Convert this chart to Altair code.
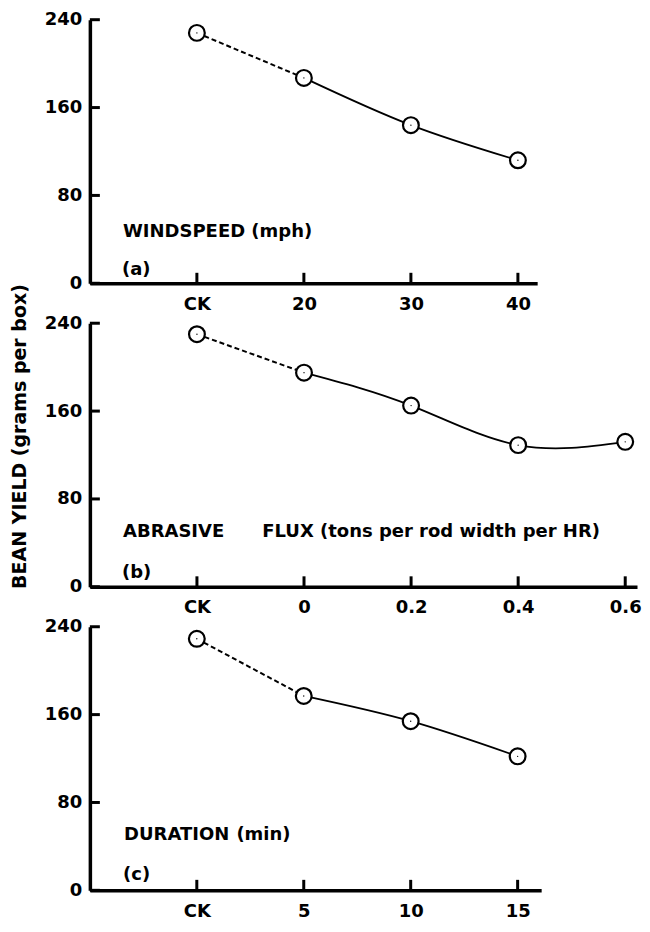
import altair as alt
import pandas as pd

# ---- data ----
a_labels = ["CK", "20", "30", "40"]
a_values = [228, 187, 144, 112]

b_labels = ["CK", "0", "0.2", "0.4", "0.6"]
b_values = [230, 195, 165, 129, 132]

c_labels = ["CK", "5", "10", "15"]
c_values = [229, 177, 154, 122]

y_ticks = [0, 80, 160, 240]

a_notes = ["WINDSPEED (mph)", "(a)"]
b_notes = ["ABRASIVE", "FLUX (tons per rod width per HR)", "(b)"]
c_notes = ["DURATION", "(min)", "(c)"]

# annotation anchor positions (in axis units)
a_note_x = [0.31, 0.30]
a_note_y = [47, 12]
b_note_x = [0.31, 1.61, 0.30]
b_note_y = [50, 50, 13]
c_note_x = [0.32, 1.37, 0.31]
c_note_y = [50, 50, 14]

FONT = "DejaVu Sans"
H = 264


def panel(labels, values, notes, note_x, note_y, width, xmax, ytitle=None):
    n = len(labels)
    idx = list(range(1, n + 1))
    df = pd.DataFrame({"idx": idx, "label": labels, "value": values})
    label_arr = "[" + ",".join("'" + l + "'" for l in labels) + "]"

    xaxis = alt.Axis(
        values=idx,
        labelExpr=label_arr + "[datum.value - 1]",
        labelPadding=12,
        labelFlush=False,
        labelOverlap=False,
        title=None,
    )
    x_enc = alt.X(
        "idx:Q",
        scale=alt.Scale(domain=[0, xmax], nice=False, zero=False),
        axis=xaxis,
    )
    if ytitle:
        yaxis = alt.Axis(
            values=y_ticks,
            labelPadding=8,
            title=ytitle,
            titleX=-70,
            titleY=113,
            titleAngle=270,
            titleAlign="center",
            titleBaseline="middle",
            titleFont=FONT,
            titleFontSize=19,
            titleFontWeight="bold",
            titleColor="black",
        )
    else:
        yaxis = alt.Axis(values=y_ticks, labelPadding=8, title=None)
    y_enc = alt.Y("value:Q", scale=alt.Scale(domain=[0, 240], nice=False), axis=yaxis)

    base = alt.Chart(df)

    dashed = alt.Chart(df.iloc[:2]).mark_line(
        color="black", strokeWidth=2, strokeDash=[5, 3]
    ).encode(x=x_enc, y=y_enc)
    solid = alt.Chart(df.iloc[1:]).mark_line(
        color="black", strokeWidth=1.8, interpolate="natural"
    ).encode(x=x_enc, y=y_enc)
    pts = base.mark_point(
        shape="circle", filled=True, fill="white", stroke="black",
        strokeWidth=2.2, size=250, opacity=1
    ).encode(x=x_enc, y=y_enc)
    dots = base.mark_point(
        shape="circle", filled=True, color="black", size=2, opacity=1
    ).encode(x=x_enc, y=y_enc)

    xt_df = pd.DataFrame({"idx": idx, "value": [0] * n})
    xticks = alt.Chart(xt_df).mark_tick(
        orient="vertical", size=11, thickness=3, yOffset=-5, color="black", opacity=1
    ).encode(x=x_enc, y=y_enc)
    yt_df = pd.DataFrame({"idx": [0] * len(y_ticks), "value": y_ticks})
    yticks = alt.Chart(yt_df).mark_tick(
        orient="horizontal", size=10, thickness=3, xOffset=5, color="black", opacity=1
    ).encode(x=x_enc, y=y_enc)

    nt_df = pd.DataFrame({"idx": note_x, "value": note_y, "txt": notes})
    texts = alt.Chart(nt_df).mark_text(
        align="left", baseline="middle", font=FONT, fontSize=18,
        fontWeight="bold", color="black"
    ).encode(x=x_enc, y=y_enc, text="txt:N")

    return alt.layer(dashed, solid, xticks, yticks, pts, dots, texts).properties(
        width=width, height=H
    )


pa = panel(a_labels, a_values, a_notes, a_note_x, a_note_y, 448, 4.18)
pb = panel(b_labels, b_values, b_notes, b_note_x, b_note_y, 548, 5.11,
           ytitle="BEAN YIELD (grams per box)")
pc = panel(c_labels, c_values, c_notes, c_note_x, c_note_y, 452, 4.22)

chart = alt.vconcat(pa, pb, pc, spacing=40, bounds="flush").properties(
    padding={"left": 2, "top": 2, "right": 0, "bottom": 0}
).configure_view(stroke=None).configure_axis(
    domainWidth=3.5,
    domainColor="black",
    ticks=False,
    grid=False,
    labelFont=FONT,
    labelFontSize=18,
    labelFontWeight="bold",
    labelColor="black",
)

chart.save("out.html", embed_options={"renderer": "svg", "actions": False})
